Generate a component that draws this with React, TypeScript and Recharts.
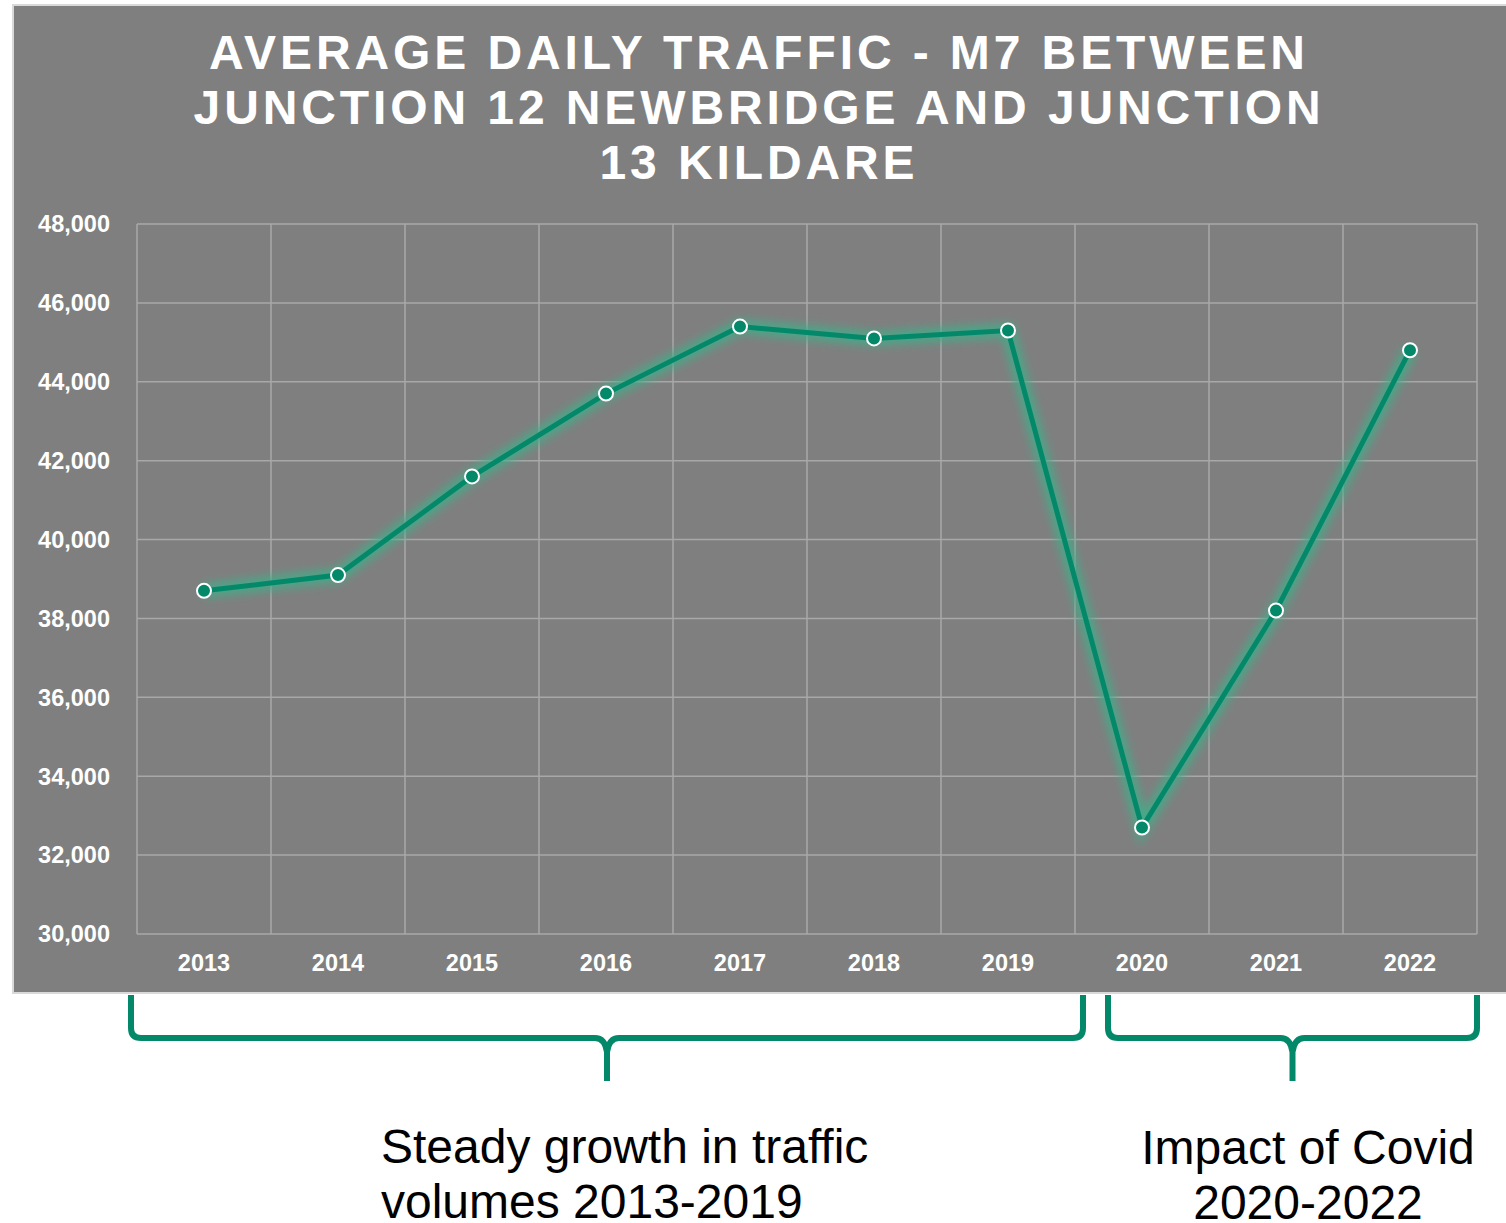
import { LineChart, Line, XAxis, YAxis, CartesianGrid } from 'recharts';

const years = ['2013', '2014', '2015', '2016', '2017', '2018', '2019', '2020', '2021', '2022'];
const traffic = [38700, 39100, 41600, 43700, 45400, 45100, 45300, 32700, 38200, 44800];
const yTicks = [30000, 32000, 34000, 36000, 38000, 40000, 42000, 44000, 46000, 48000];
const titleLines = ['AVERAGE DAILY TRAFFIC - M7 BETWEEN', 'JUNCTION 12 NEWBRIDGE AND JUNCTION', '13 KILDARE'];
const growthNote = ['Steady growth in traffic', 'volumes 2013-2019'];
const covidNote = ['Impact of Covid', '2020-2022'];

const data = years.map((year, i) => ({ year, traffic: traffic[i] }));

const GREEN = '#03896a';
const FONT = '"Liberation Sans", Arial, sans-serif';
const tickStyle = { fill: '#ffffff', fontSize: 23.5, fontWeight: 700, fontFamily: FONT };

// curly brace drawn under a range of years
function bracePath(x1: number, x2: number, top: number, mid: number, tip: number) {
  const c = (x1 + x2) / 2;
  const r = 10;
  return [
    `M ${x1} ${top}`,
    `L ${x1} ${mid - r}`,
    `Q ${x1} ${mid} ${x1 + r} ${mid}`,
    `L ${c - 12} ${mid}`,
    `Q ${c - 2} ${mid} ${c} ${mid + 14}`,
    `L ${c} ${tip}`,
    `M ${c} ${mid + 14}`,
    `Q ${c + 2} ${mid} ${c + 12} ${mid}`,
    `L ${x2 - r} ${mid}`,
    `Q ${x2} ${mid} ${x2} ${mid - r}`,
    `L ${x2} ${top}`,
  ].join(' ');
}

export default function App() {
  return (
    <div style={{ position: 'absolute', left: 0, top: 0, width: 1506, height: 1223, background: '#fff', overflow: 'hidden', fontFamily: FONT }}>
      <div style={{ position: 'absolute', left: 12, top: 4, width: 1500, height: 990, background: '#7f7f7f', border: '2px solid #d9d9d9', boxSizing: 'border-box' }} />
      <div style={{ position: 'absolute', left: 12, top: 25, width: 1494, textAlign: 'center', color: '#fff', fontSize: 48, fontWeight: 700, letterSpacing: 3.9, lineHeight: '55px' }}>
        {titleLines.map((t) => (
          <div key={t}>{t}</div>
        ))}
      </div>
      <div style={{ position: 'absolute', left: 12, top: 5 }}>
        <LineChart width={1494} height={988} data={data} margin={{ top: 219, right: 29, bottom: 0, left: 0 }}>
          <defs>
            <filter id="glow" x="-10%" y="-10%" width="120%" height="120%">
              <feGaussianBlur stdDeviation="5" />
            </filter>
          </defs>
          <CartesianGrid
            stroke="#a8a8a8"
            strokeWidth={1.5}
            verticalCoordinatesGenerator={({ offset }: any) =>
              Array.from({ length: years.length + 1 }, (_, i) => offset.left + (i * offset.width) / years.length)
            }
          />
          <XAxis
            dataKey="year"
            axisLine={false}
            tickLine={false}
            tickSize={0}
            tickMargin={20}
            height={59}
            padding={{ left: 67, right: 67 }}
            tick={tickStyle}
            interval={0}
          />
          <YAxis
            domain={[30000, 48000]}
            ticks={yTicks}
            axisLine={false}
            tickLine={false}
            tickSize={0}
            tickMargin={27}
            width={125}
            tick={tickStyle}
            tickFormatter={(v: number) => v.toLocaleString('en-US')}
          />
          <Line
            dataKey="traffic"
            stroke="#3fae8a"
            strokeOpacity={0.85}
            strokeWidth={14}
            dot={false}
            filter="url(#glow)"
            isAnimationActive={false}
          />
          <Line
            dataKey="traffic"
            stroke={GREEN}
            strokeWidth={5}
            dot={{ r: 7, fill: GREEN, stroke: '#fff', strokeWidth: 2 }}
            isAnimationActive={false}
          />
        </LineChart>
      </div>
      <svg style={{ position: 'absolute', left: 0, top: 0 }} width={1506} height={1223}>
        <path d={bracePath(131, 1083, 995, 1038, 1081)} fill="none" stroke={GREEN} strokeWidth={6} />
        <path d={bracePath(1108, 1477, 995, 1038, 1081)} fill="none" stroke={GREEN} strokeWidth={6} />
      </svg>
      <div style={{ position: 'absolute', left: 381, top: 1119, fontSize: 48, lineHeight: '55px', color: '#000' }}>
        {growthNote.map((t) => (
          <div key={t}>{t}</div>
        ))}
      </div>
      <div style={{ position: 'absolute', left: 1108, width: 400, top: 1120, fontSize: 48, lineHeight: '55px', color: '#000', textAlign: 'center' }}>
        {covidNote.map((t) => (
          <div key={t}>{t}</div>
        ))}
      </div>
    </div>
  );
}
